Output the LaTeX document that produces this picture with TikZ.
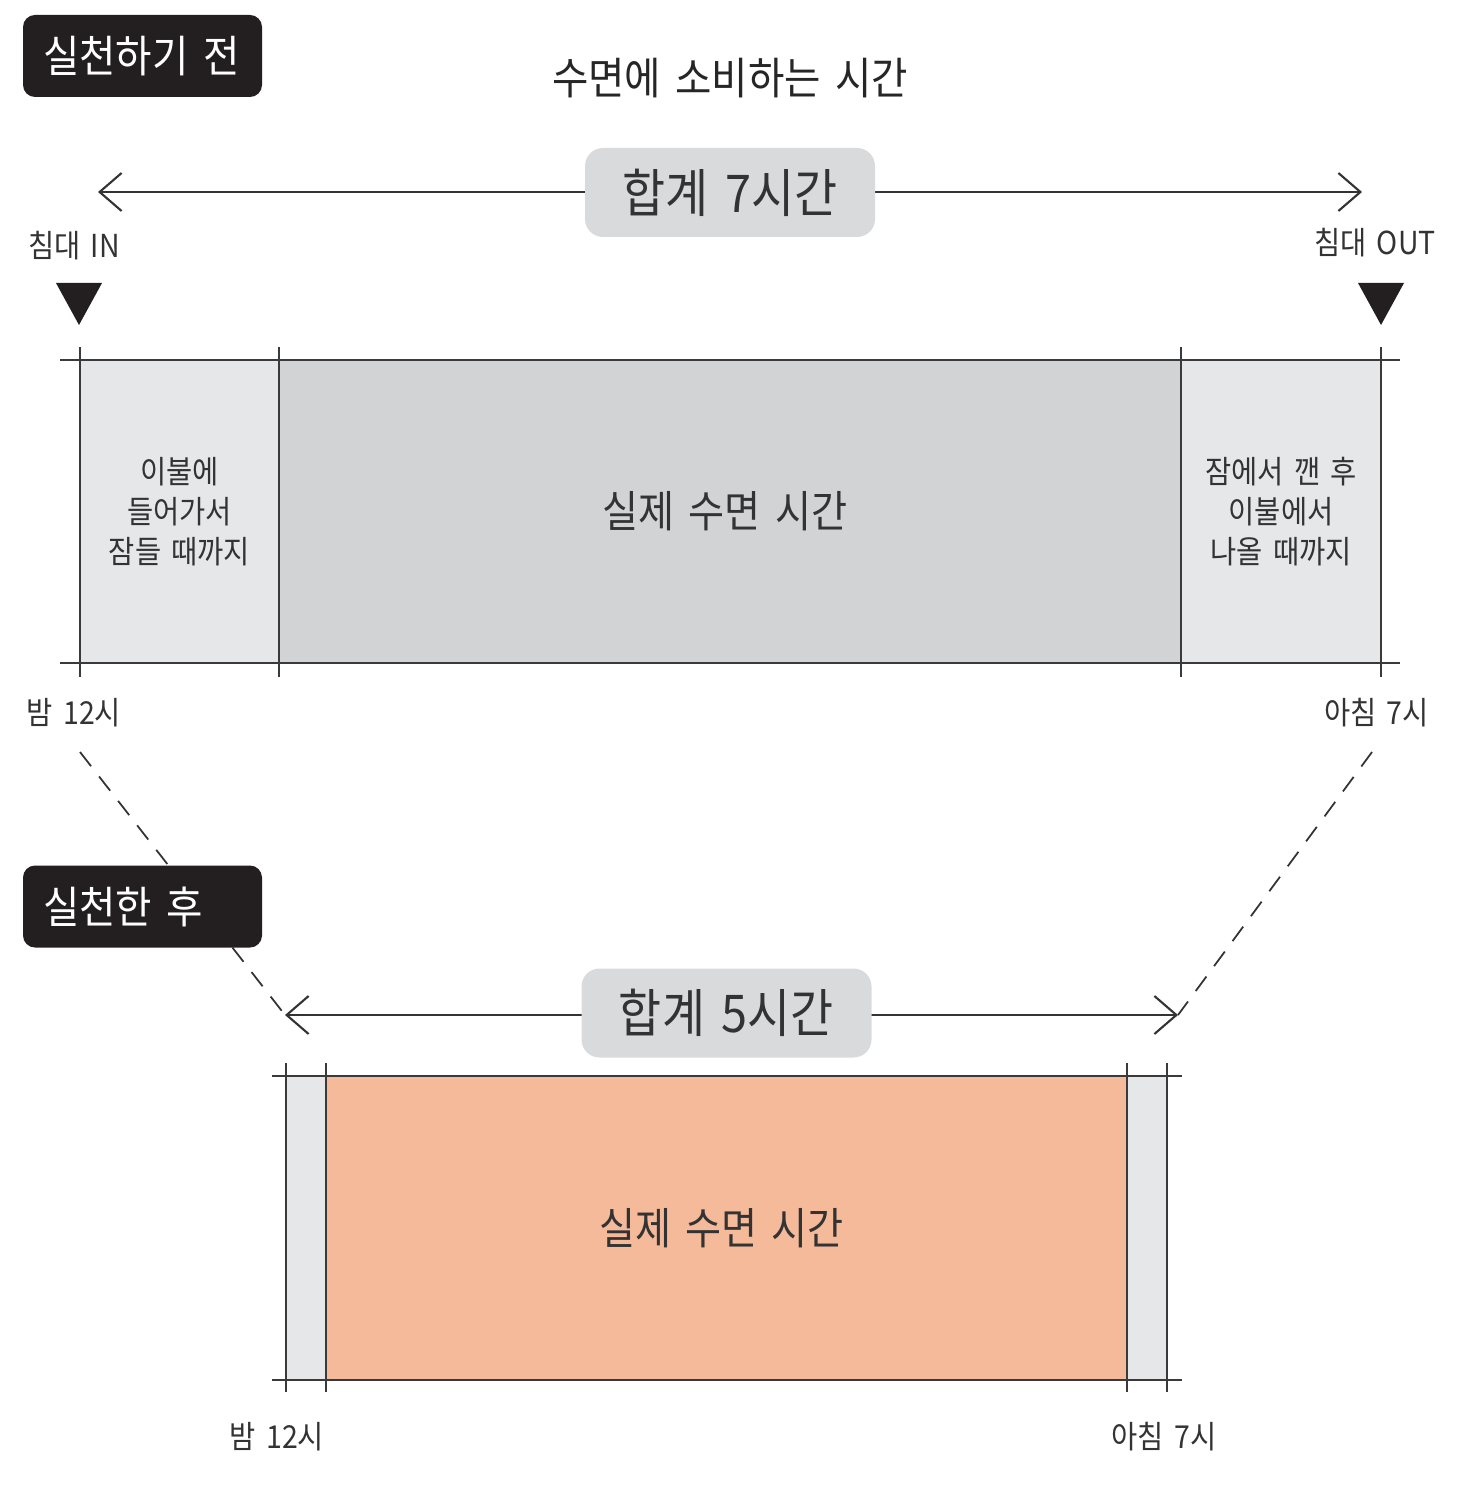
\documentclass[tikz,border=0pt]{standalone}
\usepackage{fontspec}
\setmainfont{Noto Sans CJK KR}[FakeStretch=0.9, WordSpace=1.6]
\usetikzlibrary{arrows.meta}
\definecolor{tagblack}{HTML}{231F20}
\definecolor{sumgray}{HTML}{D9DADC}
\definecolor{lightcell}{HTML}{E6E7E9}
\definecolor{midcell}{HTML}{D1D3D4}
\definecolor{sleeporange}{HTML}{F4BA9A}
\definecolor{ink}{HTML}{333333}
\definecolor{rule}{HTML}{3A3A3A}
\begin{document}
\begin{tikzpicture}[
    tag/.style ={fill=tagblack, rounded corners=0.12cm, text=white, text width=1.99cm, align=left,
                 inner xsep=0.2cm, minimum height=0.82cm, font=\fontsize{12.5}{15}\selectfont},
    sumbox/.style ={fill=sumgray, rounded corners=0.18cm, minimum width=2.9cm, minimum height=0.89cm,
                 text=ink, font=\fontsize{14.8}{18}\selectfont},
    sumarrow/.style ={draw=ink, line width=0.6pt, {Straight Barb[length=2.2mm,width=3.8mm]}-{Straight Barb[length=2.2mm,width=3.8mm]}},
    cell/.style ={inner sep=0pt, text=ink, align=center},
    small/.style ={text=ink, font=\fontsize{9}{11}\selectfont},
    bar/.style ={draw=rule, line width=0.8pt},
    guide/.style ={draw=ink, line width=0.5pt, dash pattern=on 1.8mm off 1.3mm}]
   \useasboundingbox (0,0) rectangle (14.58,-14.90);
   % before
   \node[cell, font=\fontsize{12.5}{14}\selectfont, text=black!85] (title) at (7.30,-0.78) {수면에 소비하는 시간};
   \coordinate (s7) at (0.98,-1.92);
   \coordinate (e7) at (13.62,-1.92);
   \draw[sumarrow] (s7) -- (e7);
   \node[sumbox] (sum7) at (7.30,-1.925) {합계 7시간};
   \node[small] (bedin) at (0.74,-2.46) {침대 IN};
   \node[small] (bedout) at (13.75,-2.43) {침대 OUT};
   \fill[tagblack] (0.56,-2.83) -- (1.02,-2.83) -- (0.79,-3.25) -- cycle;
   \fill[tagblack] (13.58,-2.83) -- (14.04,-2.83) -- (13.81,-3.25) -- cycle;
   \node[cell, fill=lightcell, minimum width=1.99cm, minimum height=3.03cm, font=\fontsize{9}{11.4}\selectfont] (inbed) at (1.795,-5.115) {이불에\\들어가서\\잠들 때까지};
   \node[cell, fill=midcell, minimum width=9.02cm, minimum height=3.03cm, font=\fontsize{12.4}{15}\selectfont] (sleep7) at (7.30,-5.115) {\hspace*{-0.1cm}실제 수면 시간};
   \node[cell, fill=lightcell, minimum width=2.00cm, minimum height=3.03cm, font=\fontsize{9}{11.4}\selectfont] (outbed) at (12.81,-5.115) {잠에서 깬 후\\이불에서\\나올 때까지};
   \draw[bar] (0.60,-3.60) -- (14.00,-3.60);
   \draw[bar] (0.60,-6.63) -- (14.00,-6.63);
   \foreach \x in {0.80,2.79,11.81,13.81}
      \draw[bar] (\x,-3.47) -- (\x,-6.77);
   \node[small] (night7) at (0.74,-7.13) {밤 12시};
   \node[small] (morning7) at (13.765,-7.13) {아침 7시};
   % after
   \coordinate (s5) at (2.85,-10.15);
   \coordinate (e5) at (11.78,-10.15);
   \coordinate (d1) at (0.80,-7.52);
   \coordinate (d2) at (13.72,-7.52);
   \draw[guide] (d1) -- (s5);
   \draw[guide] (d2) -- (e5);
   \node[tag] (before) at (1.425,-0.56) {실천하기 전};
   \node[tag] (after) at (1.425,-9.065) {실천한 후};
   \draw[sumarrow] (s5) -- (e5);
   \node[sumbox] (sum5) at (7.265,-10.13) {합계 5시간};
   \node[cell, fill=lightcell, minimum width=0.40cm, minimum height=3.04cm] (inbed5) at (3.06,-12.28) {};
   \node[cell, fill=sleeporange, minimum width=8.01cm, minimum height=3.04cm, font=\fontsize{12.4}{15}\selectfont] (sleep5) at (7.265,-12.28) {\hspace*{-0.1cm}실제 수면 시간};
   \node[cell, fill=lightcell, minimum width=0.40cm, minimum height=3.04cm] (outbed5) at (11.47,-12.28) {};
   \draw[bar] (2.72,-10.76) -- (11.82,-10.76);
   \draw[bar] (2.72,-13.80) -- (11.82,-13.80);
   \foreach \x in {2.86,3.26,11.27,11.67}
      \draw[bar] (\x,-10.63) -- (\x,-13.92);
   \node[small] (night5) at (2.77,-14.37) {밤 12시};
   \node[small] (morning5) at (11.64,-14.37) {아침 7시};
\end{tikzpicture}
\end{document}
